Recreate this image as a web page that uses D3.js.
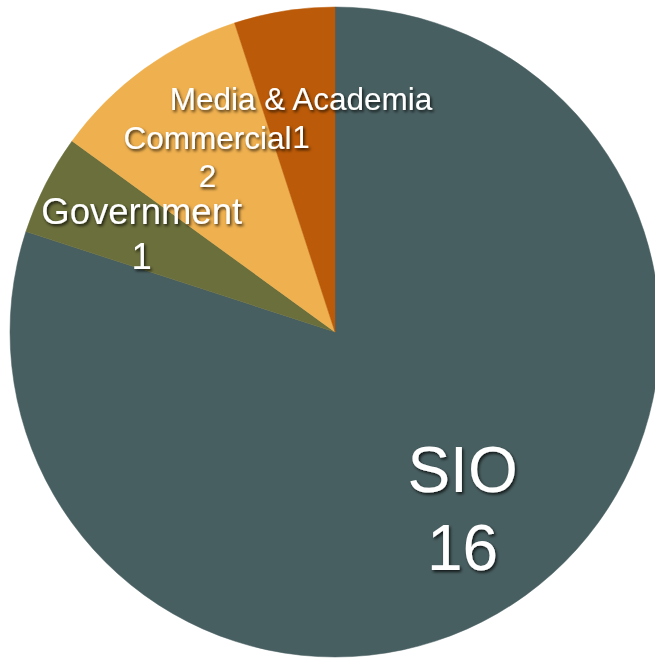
<!DOCTYPE html>
<html>
<head>
<meta charset="utf-8">
<script src="https://cdn.jsdelivr.net/npm/d3@7"></script>
<style>
  html, body { margin: 0; padding: 0; background: #ffffff; }
  svg { display: block; }
</style>
</head>
<body>
<svg id="chart" width="655" height="659"></svg>
<script>
// Data
const categories = ["SIO", "Government", "Commercial", "Media & Academia"];
const values = [16, 1, 2, 1];

// Styles (kept separate from data)
const colors = ["#485f61", "#6b6f3b", "#efb04f", "#bb5a08"];
const fontSizes = [64, 36.5, 31.5, 31.5];
const lineHeights = [1.22, 1.22, 1.2, 1.22];

const width = 655, height = 659;
const cx = 335, cy = 332, radius = 325, labelRadius = 217;

const svg = d3.select("#chart");

const defs = svg.append("defs");
const f = defs.append("filter").attr("id", "shadow")
  .attr("x", "-20%").attr("y", "-20%").attr("width", "140%").attr("height", "140%");
f.append("feDropShadow").attr("dx", 1.5).attr("dy", 2).attr("stdDeviation", 1.5)
  .attr("flood-color", "#000").attr("flood-opacity", 0.75);

const data = categories.map((c, i) => ({ name: c, value: values[i], i }));

const pie = d3.pie().value(d => d.value).sort(null).startAngle(0).endAngle(2 * Math.PI);
const arcs = pie(data);

const arc = d3.arc().innerRadius(0).outerRadius(radius);
const labelArc = d3.arc().innerRadius(labelRadius).outerRadius(labelRadius);

const g = svg.append("g").attr("transform", `translate(${cx},${cy})`);

g.selectAll("path.slice")
  .data(arcs)
  .join("path")
  .attr("class", "slice")
  .attr("d", arc)
  .attr("fill", d => colors[d.data.i])
  .attr("stroke", d => colors[d.data.i])
  .attr("stroke-width", 0.5);

g.selectAll("text.label")
  .data(arcs)
  .join("text")
  .attr("class", "label")
  .attr("text-anchor", "middle")
  .attr("font-family", "'Liberation Sans', Arial, Helvetica, sans-serif")
  .attr("font-size", d => fontSizes[d.data.i])
  .attr("fill", "#ffffff")
  .attr("filter", "url(#shadow)")
  .each(function(d) {
    const [x, y] = labelArc.centroid(d);
    const fs = fontSizes[d.data.i];
    const lh = fs * lineHeights[d.data.i];
    const t = d3.select(this);
    const y0 = y - lh / 2 + fs * 0.36;
    t.append("tspan").attr("x", x).attr("y", y0).text(d.data.name);
    t.append("tspan").attr("x", x).attr("y", y0 + lh).text(d.data.value);
  });
</script>
</body>
</html>
